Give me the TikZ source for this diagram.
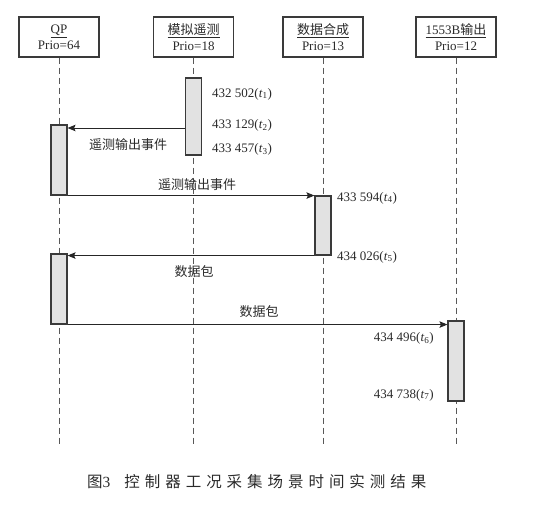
\documentclass[tikz,border=0pt]{standalone}
\usepackage{fontspec}
\setmainfont{Liberation Serif}
\newfontfamily\cjk{Noto Sans CJK SC}
\newfontfamily\capfont[LetterSpace=32]{Noto Sans CJK SC}
\usetikzlibrary{arrows.meta}
\definecolor{boxline}{HTML}{3A3A3A}
\definecolor{actfill}{HTML}{E2E2E2}
\definecolor{txt}{HTML}{2A2A2A}
\tikzset{
  hdr/.style={draw=boxline, line width=1.2pt, fill=white, minimum width=80pt, minimum height=40pt,
    align=center, inner sep=0pt, text=txt, font=\fontsize{13}{16}\selectfont},
  act/.style={draw=boxline, line width=1.1pt, fill=actfill, minimum width=16pt, inner sep=0pt},
  lifeline/.style={draw=boxline!85, line width=1pt, dash pattern=on 6pt off 4pt},
  msg/.style={draw=black!85, line width=0.9pt, -{Stealth[length=8pt,width=6.5pt,inset=1.5pt]}},
  lbl/.style={inner sep=0pt, text=txt, font=\fontsize{13}{15}\selectfont},
}
\begin{document}
\begin{tikzpicture}[x=1pt,y=-1pt]
\useasboundingbox (0,0) rectangle (533,508);
% headers
\node[hdr] (qp) at (59,37) {\underline{QP}\\Prio=64};
\node[hdr] (sim) at (193.5,37) {\underline{\cjk 模拟遥测}\\Prio=18};
\node[hdr] (dc) at (323,37) {\underline{\cjk 数据合成}\\Prio=13};
\node[hdr] (out) at (456,37) {\underline{1553B{\cjk 输出}}\\Prio=12};
% lifelines
\coordinate (bot) at (0,445);
\draw[lifeline] (qp.south) -- (qp.south |- bot);
\draw[lifeline] (sim.south) -- (sim.south |- bot);
\draw[lifeline] (dc.south) -- (dc.south |- bot);
\draw[lifeline] (out.south) -- (out.south |- bot);
% activations
\node[act, minimum height=77pt] (simact) at (193.5,116.5) {};
\node[act, minimum height=70pt] (qp1) at (59,160) {};
\node[act, minimum height=59pt] (dcact) at (323,225.5) {};
\node[act, minimum height=70pt] (qp2) at (59,289) {};
\node[act, minimum height=80pt] (outact) at (456,361) {};
% messages
\coordinate (m1) at (185.5,128);
\draw[msg] (simact.west |- m1) -- (qp1.east |- m1);
\draw[msg] (qp1.south east) -- (qp1.south east -| dcact.west);
\draw[msg] (dcact.south west) -- (dcact.south west -| qp2.east);
\draw[msg] (qp2.south east) -- (qp2.south east -| outact.west);
% message labels
\node[lbl] (l1) at (128,145) {\cjk 遥测输出事件};
\node[lbl] (l2) at (197,185) {\cjk 遥测输出事件};
\node[lbl] (l3) at (194,272) {\cjk 数据包};
\node[lbl] (l4) at (259,312) {\cjk 数据包};
% times
\node[lbl, anchor=west] (t1) at (212,94) {432 502(\textit{t}\textsubscript{1})};
\node[lbl, anchor=west] (t2) at (212,125) {433 129(\textit{t}\textsubscript{2})};
\node[lbl, anchor=west] (t3) at (212,149) {433 457(\textit{t}\textsubscript{3})};
\node[lbl, anchor=west] (t4) at (337,198) {433 594(\textit{t}\textsubscript{4})};
\node[lbl, anchor=west] (t5) at (337,257) {434 026(\textit{t}\textsubscript{5})};
\node[lbl, anchor=east] (t6) at (434,338) {434 496(\textit{t}\textsubscript{6})};
\node[lbl, anchor=east] (t7) at (434,395) {434 738(\textit{t}\textsubscript{7})};
% caption
\node[inner sep=0pt, anchor=west, text=txt, font=\fontsize{15.5}{17}\selectfont] (cap) at (87,482)
  {{\cjk 图}3\hspace{14pt}{\capfont 控制器工况采集场景时间实测结果}};
\end{tikzpicture}
\end{document}
